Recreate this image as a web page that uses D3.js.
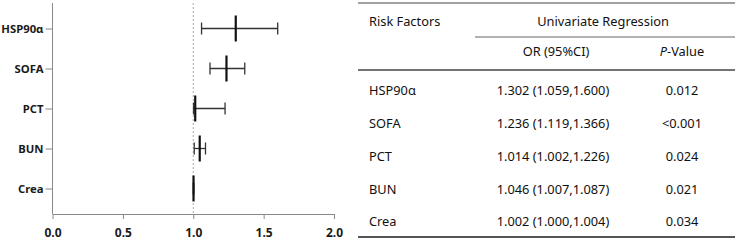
<!DOCTYPE html>
<html>
<head>
<meta charset="utf-8">
<script src="https://cdn.jsdelivr.net/npm/d3@7"></script>
<style>
body { margin: 0; background: #fff; }
svg { display: block; }
</style>
</head>
<body>
<script>
var factors = ["HSP90α", "SOFA", "PCT", "BUN", "Crea"];
var orValues = [1.302, 1.236, 1.014, 1.046, 1.002];
var lowerCI = [1.059, 1.119, 1.002, 1.007, 1.000];
var upperCI = [1.600, 1.366, 1.226, 1.087, 1.004];
var pValues = ["0.012", "<0.001", "0.024", "0.021", "0.034"];
var xTicks = [0, 0.5, 1.0, 1.5, 2.0];

var width = 738, height = 240;

var svg = d3.select("body").append("svg")
    .attr("width", width)
    .attr("height", height);

// ---- forest plot ----
var x = d3.scaleLinear().domain([0, 2]).range([52.5, 334]);
var y = d3.scalePoint().domain(factors).range([28.5, 188.5]);
var axisY = 214;

var plot = svg.append("g");

// reference line at OR = 1
plot.append("line")
    .attr("x1", x(1)).attr("x2", x(1))
    .attr("y1", 3).attr("y2", axisY)
    .attr("stroke", "#aaa")
    .attr("stroke-width", 1)
    .attr("stroke-dasharray", "2,2");

var xAxis = d3.axisBottom(x)
    .tickValues(xTicks)
    .tickFormat(d3.format(".1f"))
    .tickSize(5)
    .tickSizeOuter(0)
    .tickPadding(9);

var gx = plot.append("g")
    .attr("transform", "translate(0," + axisY + ")")
    .call(xAxis);

var yAxis = d3.axisLeft(y)
    .tickSize(7)
    .tickSizeOuter(0)
    .tickPadding(2);

var gy = plot.append("g")
    .attr("transform", "translate(" + x(0) + ",0)")
    .call(yAxis);
gy.select(".domain").remove();
gy.append("line")
    .attr("x1", 0).attr("x2", 0)
    .attr("y1", 3).attr("y2", axisY)
    .attr("stroke", "#888");

[gx, gy].forEach(function(g) {
    g.selectAll(".domain, .tick line").attr("stroke", "#888");
    g.selectAll("text")
        .attr("fill", "#1a1a1a")
        .style("font-family", "'Noto Sans', sans-serif")
        .style("font-weight", "bold")
        .style("font-size", "12px");
});
gy.selectAll("text").style("font-size", "11.3px");

var rows = factors.map(function(f, i) {
    return {name: f, or: orValues[i], lo: lowerCI[i], hi: upperCI[i], p: pValues[i]};
});

var bars = plot.selectAll("g.bar").data(rows).enter()
    .append("g").attr("class", "bar");

bars.append("line")
    .attr("x1", function(d) { return x(d.lo); })
    .attr("x2", function(d) { return x(d.hi); })
    .attr("y1", function(d) { return y(d.name); })
    .attr("y2", function(d) { return y(d.name); })
    .attr("stroke", "#333").attr("stroke-width", 1.3);

bars.selectAll("line.cap")
    .data(function(d) { return [{v: d.lo, n: d.name}, {v: d.hi, n: d.name}]; })
    .enter().append("line")
    .attr("class", "cap")
    .attr("x1", function(d) { return x(d.v); })
    .attr("x2", function(d) { return x(d.v); })
    .attr("y1", function(d) { return y(d.n) - 6; })
    .attr("y2", function(d) { return y(d.n) + 6; })
    .attr("stroke", "#333").attr("stroke-width", 1.3);

bars.append("line")
    .attr("x1", function(d) { return x(d.or); })
    .attr("x2", function(d) { return x(d.or); })
    .attr("y1", function(d) { return y(d.name) - 13; })
    .attr("y2", function(d) { return y(d.name) + 13; })
    .attr("stroke", "#111").attr("stroke-width", 2.2);

// ---- table ----
var table = svg.append("g")
    .style("font-family", "'Noto Sans', sans-serif")
    .style("font-size", "12.8px")
    .attr("fill", "#111");

var tLeft = 358, tRight = 735;
var colName = 369, colOR = 553, colP = 682;
var rowY = d3.scalePoint().domain(factors).range([91, 222]);

function hline(x1, x2, yy, w, c) {
    table.append("line")
        .attr("x1", x1).attr("x2", x2)
        .attr("y1", yy).attr("y2", yy)
        .attr("stroke", c).attr("stroke-width", w);
}
hline(tLeft, tRight, 3, 1.2, "#444");
hline(475, tRight, 37, 1.2, "#666");
hline(tLeft, tRight, 70, 1.5, "#444");
hline(tLeft, tRight, 237, 2.2, "#555");

table.append("text").attr("x", colName).attr("y", 22)
    .attr("dy", "0.35em").text("Risk Factors");
table.append("text").attr("x", 603).attr("y", 22)
    .attr("dy", "0.35em").attr("text-anchor", "middle").text("Univariate Regression");
table.append("text").attr("x", 556).attr("y", 52)
    .attr("dy", "0.35em").attr("text-anchor", "middle").text("OR (95%CI)");
var pv = table.append("text").attr("x", colP).attr("y", 52)
    .attr("dy", "0.35em").attr("text-anchor", "middle");
pv.append("tspan").style("font-style", "italic").text("P");
pv.append("tspan").text("-Value");

var trow = table.selectAll("g.trow").data(rows).enter()
    .append("g").attr("class", "trow")
    .attr("transform", function(d) { return "translate(0," + rowY(d.name) + ")"; });

trow.append("text").attr("x", colName).attr("dy", "0.35em")
    .text(function(d) { return d.name; });
trow.append("text").attr("x", colOR).attr("dy", "0.35em")
    .attr("text-anchor", "middle")
    .text(function(d) {
        return d3.format(".3f")(d.or) + " (" + d3.format(".3f")(d.lo) + "," + d3.format(".3f")(d.hi) + ")";
    });
trow.append("text").attr("x", colP).attr("dy", "0.35em")
    .attr("text-anchor", "middle")
    .text(function(d) { return d.p; });
</script>
</body>
</html>
